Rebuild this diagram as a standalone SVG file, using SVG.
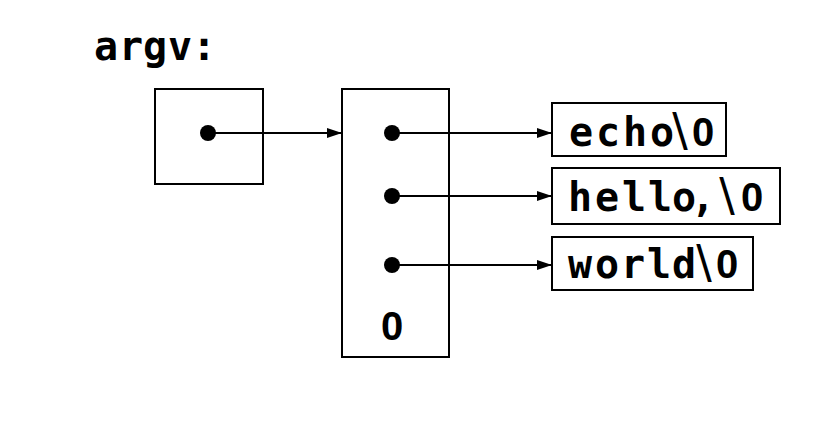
<svg xmlns="http://www.w3.org/2000/svg" width="836" height="432" viewBox="0 0 836 432">
  <style>
    .box { fill: #ffffff; stroke: #000000; stroke-width: 2; }
    .dot { fill: #000000; }
    .edge { fill: none; stroke: #000000; stroke-width: 2; marker-end: url(#arrow); }
    .tt { font-family: "DejaVu Sans Mono", "Liberation Mono", monospace; font-weight: bold; font-size: 40px; fill: #000000; text-anchor: middle; }
    .bs { font-family: "DejaVu Sans", sans-serif; font-weight: normal; font-size: 46px; }
    .zr { font-family: "Liberation Sans", Arial, sans-serif; font-weight: bold; font-size: 40px; }
  </style>
  <defs>
    <marker id="arrow" markerUnits="userSpaceOnUse" markerWidth="18" markerHeight="12" refX="15" refY="5.5" orient="auto">
      <path d="M0,0.5 L15,5.5 L0,10.5 z" fill="#000000"/>
    </marker>
  </defs>
  <rect x="0" y="0" width="836" height="432" fill="#ffffff"/>

  <g id="label-argv">
    <text class="tt" x="106 131 155 180 204" y="60">argv:</text>
  </g>

  <g id="node-argv">
    <rect class="box" x="155" y="89" width="108" height="95"/>
    <circle class="dot" cx="208" cy="133" r="8"/>
  </g>

  <g id="node-array">
    <rect class="box" x="342" y="89" width="107" height="268"/>
    <circle class="dot" cx="392" cy="133" r="8"/>
    <circle class="dot" cx="392" cy="196" r="8"/>
    <circle class="dot" cx="392" cy="265" r="8"/>
    <text class="tt zr" x="392" y="340">0</text>
  </g>

  <g id="node-echo">
    <rect class="box" x="552" y="103" width="174" height="53"/>
    <text class="tt" y="146"><tspan x="581 608 635 662">echo</tspan><tspan class="bs" x="680">\</tspan><tspan class="zr" x="703">0</tspan></text>
  </g>

  <g id="node-hello">
    <rect class="box" x="552" y="168" width="228" height="56"/>
    <text class="tt" y="211"><tspan x="580 607 634 660 684 703">hello,</tspan><tspan class="bs" x="727">\</tspan><tspan class="zr" x="752">0</tspan></text>
  </g>

  <g id="node-world">
    <rect class="box" x="552" y="237" width="201" height="53"/>
    <text class="tt" y="278"><tspan x="580 607 633 659 684">world</tspan><tspan class="bs" x="704">\</tspan><tspan class="zr" x="727">0</tspan></text>
  </g>

  <g id="connectors">
    <path class="edge" d="M208,133 L342,133"/>
    <path class="edge" d="M392,133 L552,133"/>
    <path class="edge" d="M392,196 L552,196"/>
    <path class="edge" d="M392,265 L552,265"/>
  </g>
</svg>
